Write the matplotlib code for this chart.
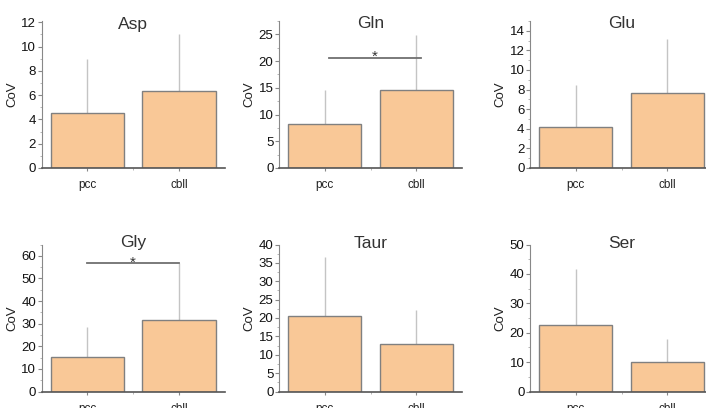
import matplotlib
matplotlib.use("Agg")
import matplotlib.pyplot as plt
import numpy as np
from matplotlib.ticker import MultipleLocator, AutoMinorLocator

plt.rcParams['font.family'] = ['Liberation Sans', 'DejaVu Sans']

groups = ['pcc', 'cbll']
titles = ['Asp', 'Gln', 'Glu', 'Gly', 'Taur', 'Ser']
means = [[4.5, 6.3], [8.2, 14.5], [4.2, 7.7],
         [15.4, 31.6], [20.6, 12.9], [22.5, 9.9]]
sds = [[4.45, 4.7], [6.3, 10.4], [4.25, 5.5],
       [13.3, 25.4], [16.0, 9.4], [19.3, 7.8]]
ymax = [12.1, 27.5, 15.0, 65, 40, 50]
ystep = [2, 5, 2, 10, 5, 10]
# significance bars: panel index -> (x0, x1, y)
sig = {1: (0.05, 1.05, 20.6), 3: (0.0, 1.0, 56.8)}

W, H = 706, 408
fig = plt.figure(figsize=(W / 100, H / 100), dpi=100)

lefts = [41.7, 279.0, 530.0]
bottoms = [168.0, 391.5]
title_y = [24.0, 243.0]
axw, axh = 183.0, 147.0

bar_color = '#f9c897'
edge_color = '#808080'
err_color = '#c4c4c4'
axis_color = '#555555'
narrow = ['Liberation Sans Narrow', 'Liberation Sans', 'DejaVu Sans']

for i, name in enumerate(titles):
    r, c = divmod(i, 3)
    ax = fig.add_axes([lefts[c] / W, 1 - bottoms[r] / H, axw / W, axh / H])
    x = np.arange(len(groups))
    ax.bar(x, means[i], width=0.8, color=bar_color, edgecolor=edge_color,
           linewidth=1.0, zorder=2)
    ax.errorbar(x, means[i], yerr=[np.zeros(2), sds[i]], fmt='none',
                ecolor=err_color, elinewidth=1.0, capsize=0, zorder=1)
    ax.set_xlim(-0.5, 1.5)
    ax.set_ylim(0, ymax[i])
    ax.yaxis.set_major_locator(MultipleLocator(ystep[i]))
    ax.yaxis.set_minor_locator(AutoMinorLocator(2))
    ax.set_xticks(x)
    ax.set_xticks([0.5], minor=True)
    ax.set_xticklabels(groups, fontsize=8.5, color='#222222')
    for lab in ax.get_yticklabels():
        lab.set_family(narrow)
    for s in ['top', 'right']:
        ax.spines[s].set_visible(False)
    ax.spines['left'].set_color('#888888')
    ax.spines['bottom'].set_color(axis_color)
    ax.spines['bottom'].set_linewidth(1.2)
    ax.tick_params(axis='y', which='major', length=3, labelsize=9.5,
                   color='#888888', labelcolor='#111111', pad=1)
    ax.tick_params(axis='y', which='minor', length=1.5, color='#aaaaaa')
    ax.tick_params(axis='x', which='major', length=2, pad=6, color='#888888')
    ax.tick_params(axis='x', which='minor', length=1.5, color='#aaaaaa')
    ax.set_ylabel('CoV', fontsize=9.5, color='#222222', labelpad=2)
    ax.yaxis.label.set_family(narrow)
    fig.text((lefts[c] + axw / 2) / W, 1 - title_y[r] / H, name,
             ha='center', va='center', fontsize=12.5, color='#333333')
    if i in sig:
        x0, x1, y = sig[i]
        ax.plot([x0, x1], [y, y], color='#707070', linewidth=1.3,
                zorder=3, clip_on=False)
        ax.annotate('*', xy=((x0 + x1) / 2, y), xytext=(0, -2.4),
                    textcoords='offset points', ha='center', va='baseline',
                    fontsize=11, color='#333333')

fig.savefig('out.png', dpi=100)
